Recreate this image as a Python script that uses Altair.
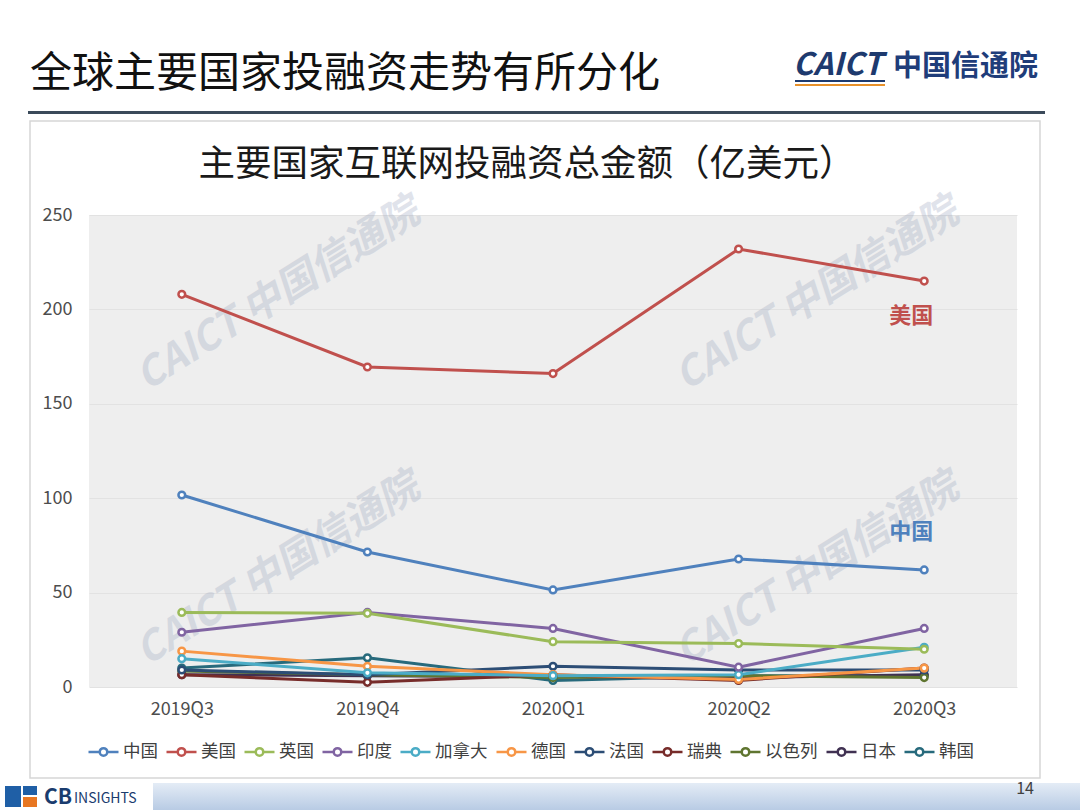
import altair as alt
import pandas as pd

FONT = "Noto Sans CJK SC"

quarters = ["2019Q3", "2019Q4", "2020Q1", "2020Q2", "2020Q3"]
countries = ["中国", "美国", "英国", "印度", "加拿大", "德国", "法国", "瑞典", "以色列", "日本", "韩国"]
colors = ["#4f81bd", "#c0504d", "#9bbb59", "#8064a2", "#4bacc6", "#f79646",
          "#2c4d75", "#772c2a", "#5f7530", "#403152", "#276a7c"]

china = [101.7, 71.5, 51.4, 67.8, 62.0]
usa = [208.0, 169.5, 166.0, 232.0, 215.0]
uk = [39.5, 39.0, 24.0, 23.0, 20.0]
india = [29.0, 39.5, 31.0, 10.5, 31.0]
canada = [15.0, 7.5, 6.0, 6.5, 21.0]
germany = [19.0, 11.0, 6.5, 4.0, 10.0]
france = [9.0, 6.5, 11.0, 9.0, 9.0]
sweden = [6.5, 2.5, 6.5, 3.5, 10.0]
israel = [8.5, 6.5, 5.0, 6.0, 5.0]
japan = [6.5, 6.0, 5.5, 5.0, 6.5]
korea = [10.0, 15.5, 3.5, 6.0, 6.0]

y_ticks = [0, 50, 100, 150, 200, 250]

page_title = "全球主要国家投融资走势有所分化"
chart_title = "主要国家互联网投融资总金额（亿美元）"
ann_labels = ["美国", "中国"]
ann_quarter = ["2020Q3", "2020Q3"]
ann_values = [196.5, 82.0]
ann_colors = ["#c0504d", "#4f81bd"]
page_number = "14"

series = [china, usa, uk, india, canada, germany, france, sweden, israel, japan, korea]
rows = []
for c, vals in reversed(list(zip(countries, series))):
    for q, v in zip(quarters, vals):
        rows.append({"quarter": q, "country": c, "value": v})
df = pd.DataFrame(rows)

legend_path = ("M -1 0 L -0.25 0 M 0.25 0 L 1 0 "
               "M -0.25 0 A 0.25 0.25 0 1 0 0.25 0 A 0.25 0.25 0 1 0 -0.25 0")

yscale = alt.Scale(domain=[0, 250], nice=False, zero=True)

xenc = alt.X("quarter:O", sort=quarters, scale=alt.Scale(type="point", padding=0.5),
             axis=alt.Axis(title=None, labelAngle=0, labelFont=FONT, labelFontSize=18,
                           labelColor="#4d4d4d", ticks=False, domain=False, grid=False,
                           labelPadding=13))
yenc = alt.Y("value:Q", scale=yscale,
             axis=alt.Axis(title=None, values=y_ticks, labelFont=FONT, labelFontSize=18,
                           labelColor="#4d4d4d", ticks=False, domain=False,
                           gridColor="#e2e2e2", labelPadding=17))

lines = alt.Chart(df).mark_line(
    strokeWidth=3,
    point=alt.OverlayMarkDef(filled=False, fill="white", size=45, strokeWidth=2.5),
).encode(
    x=xenc,
    y=yenc,
    color=alt.Color("country:N", sort=countries,
                    scale=alt.Scale(domain=countries, range=colors),
                    legend=alt.Legend(orient="none", legendX=-2, legendY=520,
                                      direction="horizontal", columns=11, title=None,
                                      symbolType=legend_path, symbolSize=900,
                                      symbolStrokeWidth=2.5, symbolFillColor="white",
                                      labelFont=FONT, labelFontSize=17.5,
                                      labelColor="#404040", labelOffset=3,
                                      columnPadding=3)),
)


def txt(s, x, y, **kw):
    return alt.Chart(pd.DataFrame({"t": [s]})).mark_text(font=FONT, **kw).encode(
        text="t:N", x=alt.value(x), y=alt.value(y))


def box(x, x2, y, y2, **kw):
    return alt.Chart(pd.DataFrame({"a": [0]})).mark_rect(**kw).encode(
        x=alt.value(x), x2=alt.value(x2), y=alt.value(y), y2=alt.value(y2))


# watermarks
wm = []
for (wx, wy) in [(189, 80), (728, 80), (189, 355), (728, 355)]:
    wm.append(txt("CAICT 中国信通院", wx, wy, angle=328, fontSize=40, fontWeight="bold",
                  fontStyle="italic", color="#9aa6bf", opacity=0.3,
                  align="center", baseline="middle"))

ann_df = pd.DataFrame({"t": ann_labels, "q": ann_quarter, "v": ann_values, "c": ann_colors})
ann = alt.Chart(ann_df).mark_text(font=FONT, fontSize=22, fontWeight="bold", dx=-13).encode(
    x=alt.X("q:O", sort=quarters), y=alt.Y("v:Q", scale=yscale), text="t:N",
    color=alt.Color("c:N", scale=None))

band = alt.Chart(pd.DataFrame({"a": [0]})).mark_rect(
    color=alt.Gradient(gradient="linear",
                       stops=[alt.GradientStop(color="#e4ecf6", offset=0),
                              alt.GradientStop(color="#b8cbe4", offset=1)],
                       x1=0, x2=0, y1=0, y2=1)
).encode(x=alt.value(-89), x2=alt.value(991), y=alt.value(568), y2=alt.value(595))

deco = [
    box(-59, 951, -94, 563, fillOpacity=0, stroke="#d6d6d6", strokeWidth=1.5),
    box(-61, 956, -104, -101, color="#3b4a5a"),
    band,
    box(-89, 64, 568, 595, color="white"),
    box(-84, -68, 571, 592, color="#1f5fa6"),
    box(-66, -52, 571, 580, color="#1f5fa6"),
    box(-66, -52, 582, 592, color="#e87722"),
    box(706, 796, -135, -133, color="#1e3a6e"),
    box(706, 796, -131, -129, color="#e8912a"),
    txt(page_title, -59, -141, fontSize=42, color="#111111", align="left", baseline="middle"),
    txt("CAICT", 704, -149, fontSize=31, fontWeight="bold", fontStyle="italic",
        color="#1e3a6e", align="left", baseline="middle"),
    txt("中国信通院", 804, -148, fontSize=29, fontWeight="bold", color="#1f3d7a",
        align="left", baseline="middle"),
    txt(chart_title, 438, -50, fontSize=36.5, color="#1a1a1a", align="center", baseline="middle"),
    txt("CB", -45, 583, fontSize=21, fontWeight="bold", color="#1a3c6e",
        align="left", baseline="middle"),
    txt("INSIGHTS", -15, 584, fontSize=14, color="#1a3c6e", align="left", baseline="middle"),
    txt(page_number, 936, 574, fontSize=16, color="#404040", align="center", baseline="middle"),
]

chart = alt.layer(*deco[:1], *wm, lines, ann, *deco[1:]).properties(
    width=928, height=472,
    padding={"left": 89, "top": 215, "right": 63, "bottom": 123},
    autosize="none", background="white",
).configure_view(fill="#eeeeee", stroke=None)

chart.save("out.html", embed_options={"renderer": "svg", "actions": False})
